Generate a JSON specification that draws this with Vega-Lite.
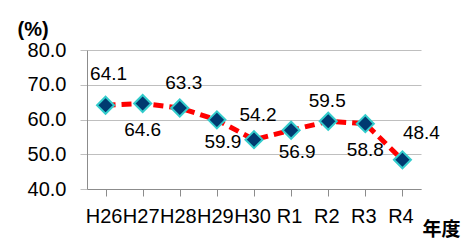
{
  "$schema": "https://vega.github.io/schema/vega-lite/v6.json",
  "width": 334,
  "height": 139,
  "autosize": {"type": "none"},
  "padding": {"left": 87, "top": 50, "right": 51, "bottom": 52},
  "background": "white",
  "config": {
    "view": {"stroke": null},
    "font": "Liberation Sans",
    "axis": {"labelFont": "Liberation Sans", "labelColor": "#000000", "labelFontSize": 20}
  },
  "data": {
    "values": [
      {"year": "H26", "rate": 64.1},
      {"year": "H27", "rate": 64.6},
      {"year": "H28", "rate": 63.3},
      {"year": "H29", "rate": 59.9},
      {"year": "H30", "rate": 54.2},
      {"year": "R1", "rate": 56.9},
      {"year": "R2", "rate": 59.5},
      {"year": "R3", "rate": 58.8},
      {"year": "R4", "rate": 48.4}
    ]
  },
  "encoding": {
    "x": {
      "field": "year",
      "type": "nominal",
      "sort": null,
      "scale": {"paddingInner": 0, "paddingOuter": 0},
      "axis": {
        "title": "年度",
        "titleFont": "Noto Sans CJK JP",
        "titleFontSize": 19,
        "titleFontWeight": "bold",
        "titleColor": "#000000",
        "titleAlign": "left",
        "titleBaseline": "middle",
        "titleX": 335,
        "titleY": 40,
        "labelAngle": 0,
        "labelOverlap": false,
        "labelBound": false,
        "bandPosition": 0,
        "labelOffset": -2,
        "labelPadding": 10,
        "tickSize": 7,
        "tickColor": "#8c8c8c",
        "domainColor": "#8c8c8c",
        "grid": false
      }
    },
    "y": {
      "field": "rate",
      "type": "quantitative",
      "scale": {"domain": [40, 80], "nice": false, "zero": false},
      "axis": {
        "title": "(%)",
        "titleFont": "Liberation Sans",
        "titleFontSize": 20,
        "titleFontWeight": "bold",
        "titleColor": "#000000",
        "titleAngle": 0,
        "titleAlign": "left",
        "titleBaseline": "middle",
        "titleX": -70,
        "titleY": -21,
        "values": [40, 50, 60, 70, 80],
        "format": ".1f",
        "labelPadding": 14,
        "tickSize": 7,
        "tickColor": "#bfbfbf",
        "domainColor": "#8c8c8c",
        "grid": true,
        "gridColor": "#bfbfbf",
        "gridWidth": 1
      }
    }
  },
  "layer": [
    {
      "mark": {"type": "line", "color": "#ff0000", "strokeWidth": 5, "strokeDash": [10, 6]}
    },
    {
      "mark": {"type": "point", "shape": "diamond", "size": 290, "filled": true, "fill": "#003a70", "stroke": "#33cccc", "strokeWidth": 2, "opacity": 1}
    },
    {
      "transform": [{"filter": "datum.year === 'H26'"}],
      "mark": {"type": "text", "fontSize": 19, "color": "#000000", "dx": 3, "dy": -31},
      "encoding": {"text": {"field": "rate", "type": "quantitative", "format": ".1f"}}
    },
    {
      "transform": [{"filter": "datum.year === 'H28' || datum.year === 'H30'"}],
      "mark": {"type": "text", "fontSize": 19, "color": "#000000", "dx": 4, "dy": -25},
      "encoding": {"text": {"field": "rate", "type": "quantitative", "format": ".1f"}}
    },
    {
      "transform": [{"filter": "datum.year === 'R2'"}],
      "mark": {"type": "text", "fontSize": 19, "color": "#000000", "dx": -1, "dy": -20},
      "encoding": {"text": {"field": "rate", "type": "quantitative", "format": ".1f"}}
    },
    {
      "transform": [{"filter": "datum.year === 'R4'"}],
      "mark": {"type": "text", "fontSize": 19, "color": "#000000", "dx": 19, "dy": -27},
      "encoding": {"text": {"field": "rate", "type": "quantitative", "format": ".1f"}}
    },
    {
      "transform": [{"filter": "datum.year === 'H27' || datum.year === 'R3'"}],
      "mark": {"type": "text", "fontSize": 19, "color": "#000000", "dx": 0, "dy": 26},
      "encoding": {"text": {"field": "rate", "type": "quantitative", "format": ".1f"}}
    },
    {
      "transform": [{"filter": "datum.year === 'H29' || datum.year === 'R1'"}],
      "mark": {"type": "text", "fontSize": 19, "color": "#000000", "dx": 6, "dy": 22},
      "encoding": {"text": {"field": "rate", "type": "quantitative", "format": ".1f"}}
    }
  ]
}
